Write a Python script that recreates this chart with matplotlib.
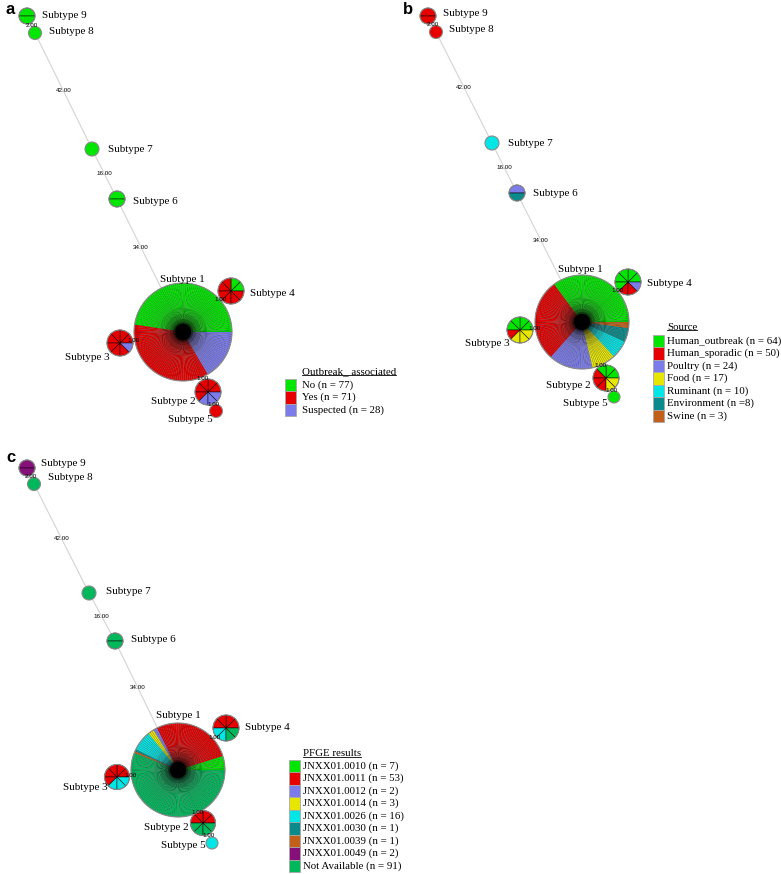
import numpy as np
import matplotlib
matplotlib.use('Agg')
import matplotlib.pyplot as plt
from matplotlib.patches import Wedge, Circle, Rectangle

# subtypes and the minimum spanning tree edges (allele distances)
subtypes = ['Subtype 1', 'Subtype 2', 'Subtype 3', 'Subtype 4', 'Subtype 5',
            'Subtype 6', 'Subtype 7', 'Subtype 8', 'Subtype 9']
edge_from = [9, 8, 7, 6, 1, 1, 1, 2]
edge_to = [8, 7, 6, 1, 4, 3, 2, 5]
edge_dist = [2.0, 42.0, 16.0, 34.0, 1.0, 1.0, 1.0, 1.0]

# panel a - outbreak association (rows = subtype 1..9)
outbreak_title = 'Outbreak_ associated'
outbreak_labels = ['No (n = 77)', 'Yes (n = 71)', 'Suspected (n = 28)']
outbreak_comp = [[69, 52, 24],
                 [0, 5, 3],
                 [0, 7, 1],
                 [2, 6, 0],
                 [0, 1, 0],
                 [2, 0, 0],
                 [1, 0, 0],
                 [1, 0, 0],
                 [2, 0, 0]]

# panel b - source
source_title = 'Source'
source_labels = ['Human_outbreak (n = 64)', 'Human_sporadic (n = 50)', 'Poultry (n = 24)',
                 'Food (n = 17)', 'Ruminant (n = 10)', 'Environment (n =8)', 'Swine (n = 3)']
source_comp = [[51, 41, 22, 12, 9, 7, 3],
               [3, 3, 0, 2, 0, 0, 0],
               [4, 1, 0, 3, 0, 0, 0],
               [5, 2, 1, 0, 0, 0, 0],
               [1, 0, 0, 0, 0, 0, 0],
               [0, 0, 1, 0, 0, 1, 0],
               [0, 0, 0, 0, 1, 0, 0],
               [0, 1, 0, 0, 0, 0, 0],
               [0, 2, 0, 0, 0, 0, 0]]

# panel c - PFGE
pfge_title = 'PFGE results'
pfge_labels = ['JNXX01.0010 (n = 7)', 'JNXX01.0011 (n = 53)', 'JNXX01.0012 (n = 2)',
               'JNXX01.0014 (n = 3)', 'JNXX01.0026 (n = 16)', 'JNXX01.0030 (n = 1)',
               'JNXX01.0039 (n = 1)', 'JNXX01.0049 (n = 2)', 'Not Available (n = 91)']
pfge_comp = [[7, 40, 2, 3, 10, 1, 1, 0, 81],
             [0, 4, 0, 0, 0, 0, 0, 0, 4],
             [0, 5, 0, 0, 3, 0, 0, 0, 0],
             [0, 4, 0, 0, 2, 0, 0, 0, 2],
             [0, 0, 0, 0, 1, 0, 0, 0, 0],
             [0, 0, 0, 0, 0, 0, 0, 0, 2],
             [0, 0, 0, 0, 0, 0, 0, 0, 1],
             [0, 0, 0, 0, 0, 0, 0, 0, 1],
             [0, 0, 0, 0, 0, 0, 0, 2, 0]]

# colours
GREEN, RED, BLUE, YELLOW = '#00e600', '#e60000', '#7b7bea', '#e6e600'
CYAN, TEAL, ORANGE, PURPLE, NA = '#00e6e6', '#0a8a8a', '#c0601a', '#86107a', '#00b85c'
outbreak_colors = [GREEN, RED, BLUE]
source_colors = [GREEN, RED, BLUE, YELLOW, CYAN, TEAL, ORANGE]
pfge_colors = [GREEN, RED, BLUE, YELLOW, CYAN, TEAL, ORANGE, PURPLE, NA]

# layout (pixel coordinates of the figure)
layouts = {
    'a': dict(x=[183, 208, 120, 231, 216, 117, 92, 35, 27],
              y=[332, 392, 343, 291, 411, 199, 149, 33, 16],
              r=[49, 13, 13, 13, 6.5, 8, 7, 6.5, 8],
              lx=[182, 173, 87, 272, 190, 155, 130, 71, 64],
              ly=[280, 401, 357, 294, 420, 202, 150, 32, 15],
              letter=(6, 10), leg=(285, 302, 372, 385)),
    'b': dict(x=[582, 606, 520, 628, 614, 517, 492, 436, 428],
              y=[322, 378, 330, 282, 397, 193, 143, 32, 16],
              r=[47, 13, 13, 13, 6, 8, 7, 6.5, 8],
              lx=[580, 568, 487, 669, 585, 555, 530, 471, 465],
              ly=[269, 385, 344, 283, 403, 194, 144, 30, 14],
              letter=(403, 9), leg=(653, 667, 327, 341)),
    'c': dict(x=[178, 203, 117, 226, 212, 115, 89, 34, 27],
              y=[770, 823, 777, 728, 843, 641, 593, 484, 468],
              r=[47, 12.5, 12.5, 13, 6, 8, 7, 6.5, 8],
              lx=[178, 166, 85, 267, 183, 153, 128, 70, 63],
              ly=[715, 828, 788, 728, 846, 640, 591, 478, 463],
              letter=(6, 457), leg=(289, 303, 754, 766)),
}

SERIF = 'Liberation Serif'
SANS = 'Liberation Sans'

fig = plt.figure(figsize=(7.81, 8.74), dpi=100)
ax = fig.add_axes([0, 0, 1, 1])
ax.set_xlim(0, 781)
ax.set_ylim(874, 0)
ax.axis('off')


def draw_pie(cx, cy, r, counts, colors):
    n = sum(counts)
    step = 360.0 / n
    lw = 0.35 if n < 20 else 0.1
    k = 0
    for c, col in zip(counts, colors):
        for _ in range(c):
            a1, a2 = k * step, (k + 1) * step
            # y axis is inverted, so flip angles to go counter-clockwise on screen
            if n == 1:
                w = Wedge((cx, cy), r, 0, 360, facecolor=col, edgecolor='none')
            else:
                w = Wedge((cx, cy), r, -a2, -a1, facecolor=col, edgecolor='black', lw=lw)
            w.set_zorder(3)
            ax.add_patch(w)
            k += 1
    if n > 20:
        # dark hub where the many wedge borders meet
        for rr, al in [(24, 0.08), (18, 0.12), (13, 0.2), (10, 0.35)]:
            ax.add_patch(Circle((cx, cy), rr, color='black', alpha=al, lw=0, zorder=3.4))
        ax.add_patch(Circle((cx, cy), 7.5, color='black', zorder=3.5))
    ax.add_patch(Circle((cx, cy), r, fill=False, edgecolor='#8a8a8a', lw=0.8, zorder=4))


def draw_panel(key, comp, colors, title, labels):
    L = layouts[key]
    xs, ys, rs = L['x'], L['y'], L['r']
    # edges
    for f, t, d in zip(edge_from, edge_to, edge_dist):
        i, j = f - 1, t - 1
        ax.plot([xs[i], xs[j]], [ys[i], ys[j]], color='#d4d4d4', lw=0.8, zorder=1)
        vx, vy = xs[j] - xs[i], ys[j] - ys[i]
        dist = np.hypot(vx, vy)
        ux, uy = vx / dist, vy / dist
        p1 = (xs[i] + rs[i] * ux, ys[i] + rs[i] * uy)
        p2 = (xs[j] - rs[j] * ux, ys[j] - rs[j] * uy)
        ax.text((p1[0] + p2[0]) / 2, (p1[1] + p2[1]) / 2, '%.2f' % d, fontsize=4.5,
                family=SANS, ha='center', va='center', zorder=6)
    # nodes
    for i in range(len(subtypes)):
        draw_pie(xs[i], ys[i], rs[i], comp[i], colors)
        ax.text(L['lx'][i], L['ly'][i], subtypes[i], fontsize=8, family=SERIF,
                ha='center', va='center', zorder=7)
    # panel letter
    ax.text(L['letter'][0], L['letter'][1], key, fontsize=12, fontweight='bold',
            family=SANS, ha='left', va='center')
    # legend
    sx, tx, ty, ry = L['leg']
    h = 12.5
    tt = ax.text(tx, ty, title, fontsize=7.8, family=SERIF, ha='left', va='center')
    for k, (lab, col) in enumerate(zip(labels, colors)):
        yc = ry + k * h
        ax.add_patch(Rectangle((sx, yc - h / 2), 11, h, facecolor=col,
                               edgecolor='#a8a8a8', lw=0.6, zorder=3))
        ax.text(tx, yc, lab, fontsize=7.8, family=SERIF, ha='left', va='center')
    return tt


titles = [draw_panel('a', outbreak_comp, outbreak_colors, outbreak_title, outbreak_labels),
          draw_panel('b', source_comp, source_colors, source_title, source_labels),
          draw_panel('c', pfge_comp, pfge_colors, pfge_title, pfge_labels)]

# underline the legend titles
fig.canvas.draw()
inv = ax.transData.inverted()
for tt in titles:
    bb = tt.get_window_extent()
    (x0, y0), (x1, y1) = inv.transform([[bb.x0, bb.y0], [bb.x1, bb.y1]])
    ax.plot([x0, x1], [y0 - 1.5, y0 - 1.5], color='black', lw=0.6)

fig.savefig('out.png', dpi=100)
